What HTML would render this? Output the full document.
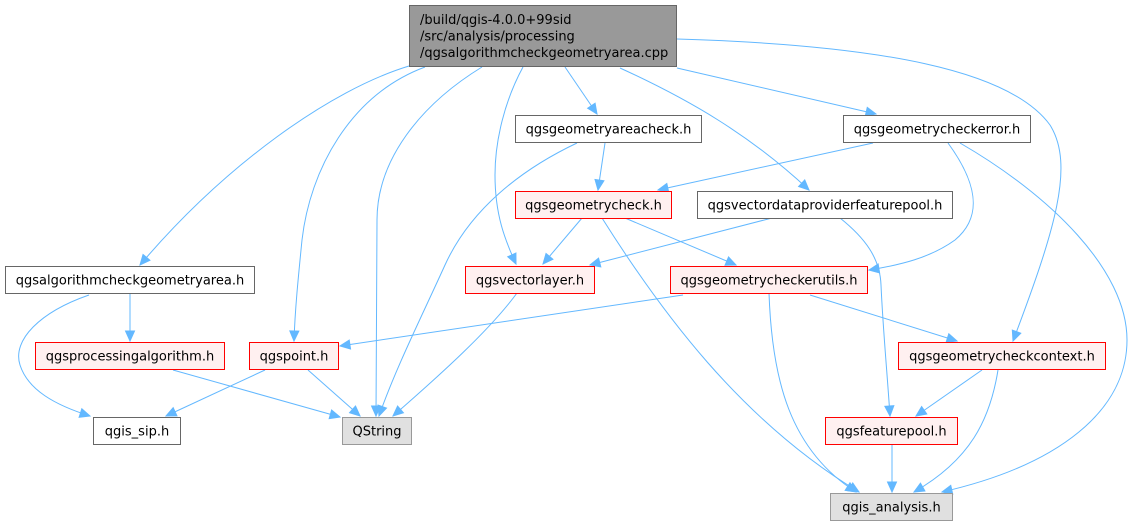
<!DOCTYPE html>
<html><head><meta charset="utf-8"><style>
html,body{margin:0;padding:0;background:#fff;}
svg{display:block;}
text{font-family:"DejaVu Sans","Liberation Sans",sans-serif;font-size:13px;fill:#000;}
</style></head><body>
<svg width="1133" height="526" viewBox="0 0 1133 526" xmlns="http://www.w3.org/2000/svg">
<defs>
<marker id="a" markerWidth="11" markerHeight="11" refX="10" refY="4.5" orient="auto" markerUnits="userSpaceOnUse" style="overflow:visible">
<path d="M0,0 L10,4.5 L0,9 z" fill="#63b8ff" stroke="#63b8ff" stroke-width="1"/>
</marker>
</defs>
<g fill="none" stroke="#63b8ff" stroke-width="1" marker-end="url(#a)">
<path d="M409,66 C330,90 225,165 140,265"/>
<path d="M425,67 C350,95 310,170 302,240 C298,280 295,310 294,341"/>
<path d="M482,67 C420,105 377,160 377,220 L376,416"/>
<path d="M523,67 C505,100 495,140 495,175 C495,215 505,240 516,264"/>
<path d="M565,67 L597,114"/>
<path d="M620,68 C690,100 750,135 809,190"/>
<path d="M677,68 L876,114"/>
<path d="M677,39 C880,45 1010,70 1050,125 C1075,165 1055,230 1013,341"/>
<path d="M130,293 L130,341"/>
<path d="M89,295 C40,312 12,340 20,365 C28,390 55,405 90,416"/>
<path d="M173,370 L340,417"/>
<path d="M265,370 L166,416"/>
<path d="M308,370 L360,416"/>
<path d="M605,143 L598,190"/>
<path d="M577,143 C520,170 470,210 445,265 C420,320 395,370 379,416"/>
<path d="M873,143 L658,190"/>
<path d="M948,143 C975,180 985,215 955,240 C930,258 900,265 869,270"/>
<path d="M960,143 C1050,195 1127,270 1127,340 C1127,410 1060,465 942,492"/>
<path d="M582,218 L543,264"/>
<path d="M625,218 L736,265"/>
<path d="M602,218 C660,310 740,420 859,492"/>
<path d="M772,218 L590,265"/>
<path d="M840,218 C865,238 880,258 881,285 C883,330 887,370 890,416"/>
<path d="M517,293 C490,330 440,375 393,416"/>
<path d="M683,295 L340,346"/>
<path d="M769,293 C772,380 790,450 856,492"/>
<path d="M810,295 L957,341"/>
<path d="M982,370 L916,416"/>
<path d="M998,370 C990,420 970,460 914,492"/>
<path d="M892,445 L892,492"/>
</g>
<g stroke-width="1">
<rect x="409.5" y="5.5" width="267" height="61" fill="#999999" stroke="#666666"/>
<rect x="515.5" y="115.5" width="186" height="27" fill="#ffffff" stroke="#666666"/>
<rect x="843.5" y="115.5" width="187" height="27" fill="#ffffff" stroke="#666666"/>
<rect x="515.5" y="191.5" width="156" height="27" fill="#fff0f0" stroke="#ff0000"/>
<rect x="697.5" y="191.5" width="255" height="27" fill="#ffffff" stroke="#666666"/>
<rect x="5.5" y="266.5" width="249" height="27" fill="#ffffff" stroke="#666666"/>
<rect x="465.5" y="266.5" width="129" height="27" fill="#fff0f0" stroke="#ff0000"/>
<rect x="670.5" y="266.5" width="197" height="27" fill="#fff0f0" stroke="#ff0000"/>
<rect x="35.5" y="342.5" width="189" height="27" fill="#fff0f0" stroke="#ff0000"/>
<rect x="249.5" y="342.5" width="89" height="27" fill="#fff0f0" stroke="#ff0000"/>
<rect x="898.5" y="342.5" width="207" height="27" fill="#fff0f0" stroke="#ff0000"/>
<rect x="93.5" y="417.5" width="87" height="27" fill="#ffffff" stroke="#666666"/>
<rect x="342.5" y="417.5" width="69" height="27" fill="#e0e0e0" stroke="#999999"/>
<rect x="825.5" y="417.5" width="132" height="27" fill="#fff0f0" stroke="#ff0000"/>
<rect x="830.5" y="493.5" width="122" height="27" fill="#e0e0e0" stroke="#999999"/>
</g>
<text x="420" y="24">/build/qgis-4.0.0+99sid</text>
<text x="420" y="40.5">/src/analysis/processing</text>
<text x="420" y="57">/qgsalgorithmcheckgeometryarea.cpp</text>
<g text-anchor="middle">
<text x="608.5" y="133.5">qgsgeometryareacheck.h</text>
<text x="937" y="133.5">qgsgeometrycheckerror.h</text>
<text x="593.5" y="209.5">qgsgeometrycheck.h</text>
<text x="825" y="209.5">qgsvectordataproviderfeaturepool.h</text>
<text x="130" y="284.5">qgsalgorithmcheckgeometryarea.h</text>
<text x="530" y="284.5">qgsvectorlayer.h</text>
<text x="769" y="284.5">qgsgeometrycheckerutils.h</text>
<text x="130" y="360.5">qgsprocessingalgorithm.h</text>
<text x="294" y="360.5">qgspoint.h</text>
<text x="1002" y="360.5">qgsgeometrycheckcontext.h</text>
<text x="137" y="435.5">qgis_sip.h</text>
<text x="377" y="435.5">QString</text>
<text x="891.5" y="435.5">qgsfeaturepool.h</text>
<text x="891.5" y="511.5">qgis_analysis.h</text>
</g>
</svg>
</body></html>
